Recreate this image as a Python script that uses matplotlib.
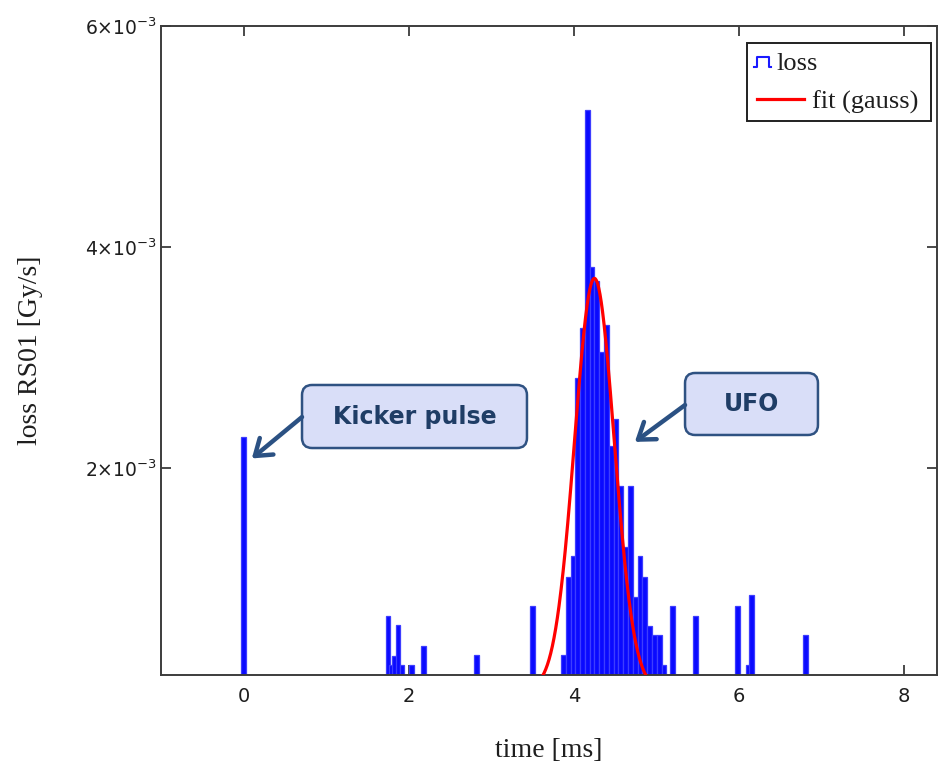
import numpy as np
import matplotlib
matplotlib.use("Agg")
import matplotlib.pyplot as plt
from matplotlib.patches import FancyBboxPatch
from matplotlib.lines import Line2D
from matplotlib.ticker import FixedLocator, FuncFormatter

plt.rcParams["mathtext.fontset"] = "dejavusans"

# Loss histogram (bin centre in ms, loss in Gy/s)
time_ms = [0.0, 1.75, 1.79, 1.83, 1.87, 1.92, 2.03, 2.18, 2.82, 3.50,
           3.874, 3.932, 3.990, 4.048, 4.106, 4.164, 4.222, 4.280, 4.338,
           4.396, 4.454, 4.512, 4.570, 4.628, 4.686, 4.744, 4.802, 4.860,
           4.918, 4.976, 5.034, 5.092, 5.20, 5.47, 5.98, 6.11, 6.15, 6.81]
loss_gys = [2.28e-3, 0.66e-3, 0.22e-3, 0.30e-3, 0.58e-3, 0.22e-3, 0.22e-3,
            0.39e-3, 0.31e-3, 0.75e-3,
            0.31e-3, 1.02e-3, 1.21e-3, 2.82e-3, 3.27e-3, 5.24e-3, 3.82e-3,
            3.70e-3, 3.05e-3, 3.30e-3, 2.20e-3, 2.45e-3, 1.84e-3, 1.29e-3,
            1.84e-3, 0.84e-3, 1.21e-3, 1.02e-3, 0.57e-3, 0.49e-3, 0.49e-3,
            0.22e-3, 0.75e-3, 0.66e-3, 0.75e-3, 0.22e-3, 0.85e-3, 0.49e-3]
bin_width_ms = 0.058

# Gaussian fit parameters of the UFO peak
fit_amplitude = 3.72e-3
fit_mean_ms = 4.25
fit_sigma_ms = 0.24

x_ticks = [0, 2, 4, 6, 8]
y_ticks = [2e-3, 4e-3, 6e-3]
y_tick_labels = [r"$2{\times}10^{-3}$", r"$4{\times}10^{-3}$", r"$6{\times}10^{-3}$"]

fig = plt.figure(figsize=(9.4, 7.68), dpi=100)
ax = fig.add_axes([0.1713, 0.1211, 0.8255, 0.8444])

ax.bar(time_ms, loss_gys, width=bin_width_ms, color="#0a0aff",
       edgecolor="#3d3dff", linewidth=0.9, zorder=2)

t_fit = np.linspace(fit_mean_ms - 0.75, fit_mean_ms + 0.75, 300)
y_fit = fit_amplitude * np.exp(-(t_fit - fit_mean_ms) ** 2 / (2 * fit_sigma_ms ** 2))
ax.plot(t_fit, y_fit, color="#ff0000", lw=2.3, zorder=3)

ax.set_xlim(-1, 8.4)
ax.set_ylim(0.00013, 0.006)
ax.xaxis.set_major_locator(FixedLocator(x_ticks))
ax.xaxis.set_major_formatter(FuncFormatter(lambda v, p: f"{v:g}"))
ax.yaxis.set_major_locator(FixedLocator(y_ticks))
ax.set_yticklabels(y_tick_labels)

spine_col = "#3c3c3c"
for s in ax.spines.values():
    s.set_color(spine_col)
    s.set_linewidth(1.4)
ax.tick_params(direction="in", length=7, width=1.3, color=spine_col,
               top=True, right=True, labelcolor="#1e1e1e")
ax.tick_params(axis="x", labelsize=14, pad=9)
ax.tick_params(axis="y", labelsize=13.5, pad=3)

label_font = dict(family="Liberation Serif", size=20, color="#1e1e1e")
ax.set_xlabel("time [ms]", **label_font)
ax.set_ylabel("loss RS01 [Gy/s]", **label_font)
ax.xaxis.set_label_coords(0.5, -0.097)
ax.yaxis.set_label_coords(-0.152, 0.5)

# legend box
legend_font = dict(family="Liberation Serif", size=19, color="#1e1e1e")
ax.add_patch(plt.Rectangle((0.7552, 0.8543), 0.9923 - 0.7552, 0.9746 - 0.8543,
                           transform=ax.transAxes, fill=False,
                           edgecolor="#202020", lw=1.4, zorder=5))
ax.add_line(Line2D([0.7646, 0.7676, 0.7676, 0.7839, 0.7839, 0.7861],
                   [0.938, 0.938, 0.9526, 0.9526, 0.938, 0.938],
                   transform=ax.transAxes, color="#1a1aff", lw=1.5, zorder=5))
ax.text(0.7930, 0.9329, "loss", transform=ax.transAxes, ha="left",
        va="baseline", **legend_font)
ax.add_line(Line2D([0.7676, 0.8290], [0.8882, 0.8882], transform=ax.transAxes,
                   color="#ff0000", lw=2.3, zorder=5))
ax.text(0.8390, 0.8739, "fit (gauss)", transform=ax.transAxes, ha="left",
        va="baseline", **legend_font)

# callouts
box_fc = "#d9def8"
box_ec = "#2f5282"
text_col = "#1f3d66"
arrow_col = "#2b5183"
aspect = 776 / 648.5


def callout(x0, x1, y0, y1, label, start, tip):
    ax.add_patch(FancyBboxPatch((x0, y0), x1 - x0, y1 - y0,
                                boxstyle="round,pad=0,rounding_size=0.013",
                                mutation_aspect=aspect, transform=ax.transAxes,
                                facecolor=box_fc, edgecolor=box_ec, lw=1.8,
                                zorder=6))
    ax.text((x0 + x1) / 2, (y0 + y1) / 2, label, transform=ax.transAxes,
            ha="center", va="center", fontsize=17, fontweight="bold",
            family="DejaVu Sans", color=text_col, zorder=7)
    ax.annotate("", xy=tip, xycoords="data", xytext=start,
                textcoords="axes fraction",
                arrowprops=dict(arrowstyle="->,head_length=0.5,head_width=0.35",
                                lw=3.2, color=arrow_col, mutation_scale=22,
                                shrinkA=0, shrinkB=0, capstyle="round",
                                joinstyle="round"),
                zorder=6)


callout(0.1817, 0.4716, 0.3500, 0.4472, "Kicker pulse",
        (0.1817, 0.3978), (0.10, 2.09e-3))
callout(0.6753, 0.8466, 0.3701, 0.4657, "UFO",
        (0.6753, 0.4163), (4.74, 2.24e-3))

fig.savefig("out.png", dpi=100)
